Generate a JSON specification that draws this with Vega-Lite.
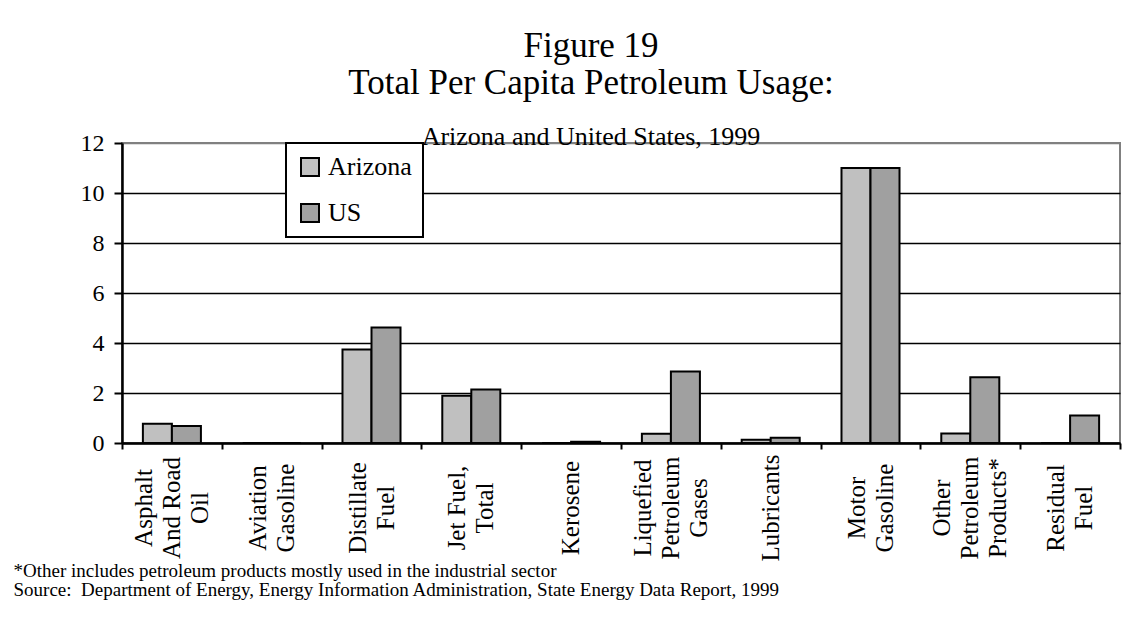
{
  "$schema": "https://vega.github.io/schema/vega-lite/v6.json",
  "width": 998,
  "height": 300,
  "autosize": "none",
  "padding": {"left": 122, "top": 143, "right": 3, "bottom": 176},
  "background": "white",
  "config": {"font": "Liberation Serif", "view": {"stroke": "#808080", "strokeWidth": 2}},
  "title": {
    "text": ["Figure 19", "Total Per Capita Petroleum Usage:"],
    "subtitle": "Arizona and United States, 1999",
    "font": "Liberation Serif",
    "subtitleFont": "Liberation Serif",
    "fontSize": 35,
    "fontWeight": "normal",
    "lineHeight": 37,
    "color": "black",
    "subtitleFontSize": 26,
    "subtitleColor": "black",
    "subtitlePadding": 23,
    "anchor": "middle",
    "dx": -30,
    "offset": -19
  },
  "data": {
    "values": [
      {"fuel": "Asphalt|And Road|Oil", "region": "Arizona", "value": 0.77},
      {"fuel": "Asphalt|And Road|Oil", "region": "US", "value": 0.68},
      {"fuel": "Aviation|Gasoline", "region": "Arizona", "value": 0},
      {"fuel": "Aviation|Gasoline", "region": "US", "value": 0},
      {"fuel": "Distillate|Fuel", "region": "Arizona", "value": 3.74},
      {"fuel": "Distillate|Fuel", "region": "US", "value": 4.62},
      {"fuel": "Jet Fuel,|Total", "region": "Arizona", "value": 1.89},
      {"fuel": "Jet Fuel,|Total", "region": "US", "value": 2.14},
      {"fuel": "Kerosene", "region": "Arizona", "value": 0},
      {"fuel": "Kerosene", "region": "US", "value": 0.05},
      {"fuel": "Liquefied|Petroleum|Gases", "region": "Arizona", "value": 0.37},
      {"fuel": "Liquefied|Petroleum|Gases", "region": "US", "value": 2.86},
      {"fuel": "Lubricants", "region": "Arizona", "value": 0.13},
      {"fuel": "Lubricants", "region": "US", "value": 0.21},
      {"fuel": "Motor|Gasoline", "region": "Arizona", "value": 11.0},
      {"fuel": "Motor|Gasoline", "region": "US", "value": 11.0},
      {"fuel": "Other|Petroleum|Products*", "region": "Arizona", "value": 0.38},
      {"fuel": "Other|Petroleum|Products*", "region": "US", "value": 2.63},
      {"fuel": "Residual|Fuel", "region": "Arizona", "value": 0},
      {"fuel": "Residual|Fuel", "region": "US", "value": 1.1}
    ]
  },
  "encoding": {
    "x": {
      "field": "fuel",
      "type": "nominal",
      "sort": null,
      "scale": {"paddingInner": 0, "paddingOuter": 0},
      "axis": {
        "title": ["*Other includes petroleum products mostly used in the industrial sector", "\u00a0Source:\u00a0 Department of Energy, Energy Information Administration, State Energy Data Report, 1999"],
        "titleFont": "Liberation Serif",
        "titleFontSize": 19,
        "titleFontWeight": "normal",
        "titleColor": "black",
        "titleAnchor": "start",
        "titleAlign": "left",
        "titleBaseline": "alphabetic",
        "titleLineHeight": 19,
        "titleX": -109,
        "titleY": 133,
        "labels": false,
        "tickBand": "extent",
        "tickSize": 6,
        "tickWidth": 2,
        "tickColor": "black",
        "domainColor": "black",
        "domainWidth": 2.5,
        "grid": false,
        "zindex": 1
      }
    }
  },
  "layer": [
    {
      "mark": {"type": "bar", "stroke": "black", "strokeWidth": 2},
      "encoding": {
        "xOffset": {
          "field": "region",
          "type": "nominal",
          "sort": ["Arizona", "US"],
          "scale": {"paddingInner": 0, "paddingOuter": 0.72}
        },
        "y": {
          "field": "value",
          "type": "quantitative",
          "scale": {"domain": [0, 12], "nice": false},
          "axis": {
            "title": null,
            "values": [0, 2, 4, 6, 8, 10, 12],
            "labelFontSize": 24,
            "labelColor": "black",
            "labelPadding": 10,
            "tickSize": 8,
            "tickWidth": 2,
            "tickColor": "black",
            "domainColor": "black",
            "domainWidth": 2.5,
            "grid": true,
            "gridColor": {"condition": {"test": "datum.value == 12", "value": "#808080"}, "value": "black"},
            "gridWidth": 1.5,
            "gridOpacity": 1
          }
        },
        "color": {
          "field": "region",
          "type": "nominal",
          "sort": ["Arizona", "US"],
          "scale": {"domain": ["Arizona", "US"], "range": ["#c0c0c0", "#a0a0a0"]},
          "legend": {
            "orient": "none",
            "legendX": 164,
            "legendY": 0,
            "title": null,
            "symbolType": "square",
            "symbolSize": 324,
            "symbolStrokeColor": "black",
            "symbolStrokeWidth": 2,
            "symbolOpacity": 1,
            "labelFont": "Liberation Serif",
            "labelFontSize": 26,
            "labelColor": "black",
            "labelOffset": 5,
            "rowPadding": 20,
            "padding": 11,
            "strokeColor": "black",
            "fillColor": "white",
            "encode": {"legend": {"update": {"strokeWidth": {"value": 2}}}}
          }
        }
      }
    },
    {
      "transform": [{"filter": "datum.region == 'Arizona'"}],
      "mark": {
        "type": "text",
        "angle": 270,
        "align": "center",
        "baseline": "middle",
        "fontSize": 25,
        "font": "Liberation Serif",
        "color": "black",
        "text": {"expr": "split(datum.fuel, '|')[0]"},
        "dy": {"expr": "(0 - (length(split(datum.fuel, '|')) - 1) / 2) * 28"}
      },
      "encoding": {
        "y": {"datum": -2.6, "type": "quantitative"}
      }
    },
    {
      "transform": [{"filter": "datum.region == 'Arizona'"}],
      "mark": {
        "type": "text",
        "angle": 270,
        "align": "center",
        "baseline": "middle",
        "fontSize": 25,
        "font": "Liberation Serif",
        "color": "black",
        "text": {"expr": "split(datum.fuel, '|')[1] || ''"},
        "dy": {"expr": "(1 - (length(split(datum.fuel, '|')) - 1) / 2) * 28"}
      },
      "encoding": {
        "y": {"datum": -2.6, "type": "quantitative"}
      }
    },
    {
      "transform": [{"filter": "datum.region == 'Arizona'"}],
      "mark": {
        "type": "text",
        "angle": 270,
        "align": "center",
        "baseline": "middle",
        "fontSize": 25,
        "font": "Liberation Serif",
        "color": "black",
        "text": {"expr": "split(datum.fuel, '|')[2] || ''"},
        "dy": {"expr": "(2 - (length(split(datum.fuel, '|')) - 1) / 2) * 28"}
      },
      "encoding": {
        "y": {"datum": -2.6, "type": "quantitative"}
      }
    }
  ]
}
